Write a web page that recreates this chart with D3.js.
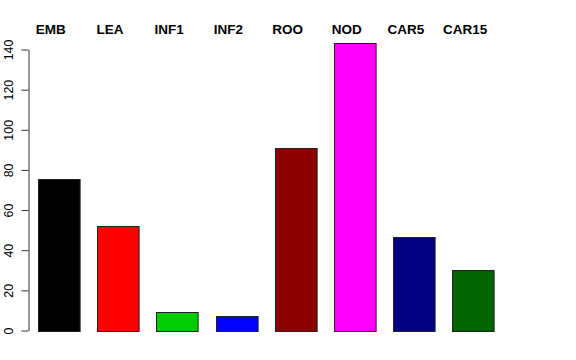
<!DOCTYPE html>
<html><head><meta charset="utf-8">
<script src="https://cdn.jsdelivr.net/npm/d3@7"></script>
<style>body{margin:0;background:#fff}svg{display:block}</style>
</head><body>
<svg id="c" width="576" height="360"></svg>
<script>
const categories = ["EMB","LEA","INF1","INF2","ROO","NOD","CAR5","CAR15"];
const values = [75.5, 51.9, 9.1, 7.2, 91.1, 143.4, 46.7, 30.0];
const colors = ["#000000","#FF0000","#00CD00","#0000FF","#8B0000","#FF00FF","#000080","#006400"];
const yTicks = [0,20,40,60,80,100,120,140];

const svg = d3.select("#c");
const x = d3.scaleBand().domain(categories).range([38, 494]).paddingInner(0.297).paddingOuter(0);
const y = d3.scaleLinear().domain([0,140]).range([330.5, 49.5]);

svg.selectAll("rect.bar").data(categories).join("rect")
  .attr("class","bar")
  .attr("x", d => Math.round(x(d)) + 0.5)
  .attr("y", (d,i) => Math.round(y(values[i])) + 0.5)
  .attr("width", x.bandwidth())
  .attr("height", (d,i) => Math.round(y(0)) - Math.round(y(values[i])))
  .attr("fill", (d,i) => colors[i])
  .attr("stroke", "#222").attr("stroke-width", 1);

const axis = d3.axisLeft(y).tickValues(yTicks).tickSize(7).tickSizeOuter(0).tickPadding(8);
const g = svg.append("g").attr("transform","translate(28.5,0)").call(axis);
g.select(".domain").attr("stroke","#333");
g.selectAll(".tick line").attr("stroke","#333");
g.selectAll(".tick text")
  .attr("font-family","'Liberation Sans', Arial, sans-serif").attr("font-size","12.4px").attr("fill","#000")
  .attr("text-anchor","middle").attr("x",0).attr("dy",0)
  .attr("transform","translate(-16,0) rotate(-90)");

svg.selectAll("text.lab").data(categories).join("text")
  .attr("class","lab")
  .attr("x", d => x(d) + x.bandwidth()/2 - 8)
  .attr("y", 34.3)
  .attr("text-anchor","middle")
  .attr("font-family","'Liberation Sans', Arial, sans-serif")
  .attr("font-weight","bold").attr("font-size","13.5px")
  .text(d => d);
</script>
</body></html>
